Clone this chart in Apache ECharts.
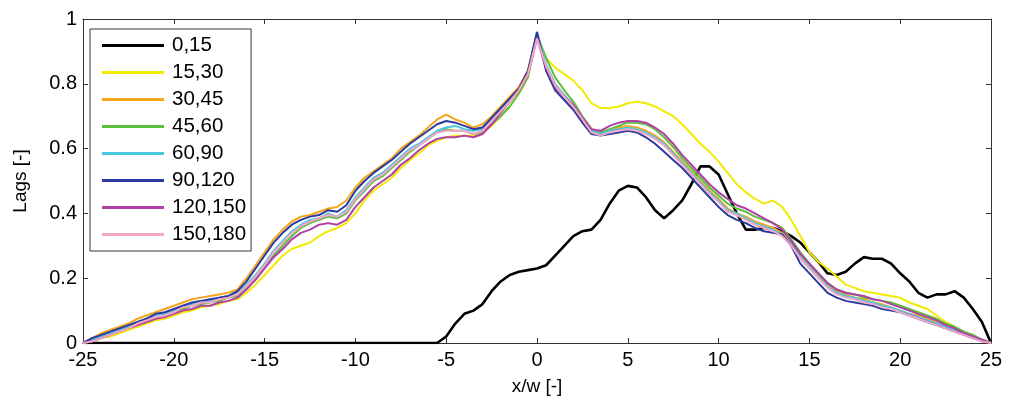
<!DOCTYPE html>
<html>
<head>
<meta charset="utf-8">
<script src="https://cdn.jsdelivr.net/npm/echarts@6/dist/echarts.min.js"></script>
<style>
html,body{margin:0;padding:0;background:#fff;}
#chart{width:1010px;height:401px;}
</style>
</head>
<body>
<div id="chart"></div>
<script>
// x/w grid from -25 to 25 step 0.5
var xValues = [];
for (var i = 0; i <= 100; i++) xValues.push(-25 + 0.5 * i);

var seriesNames = ['0,15','15,30','30,45','45,60','60,90','90,120','120,150','150,180'];
var seriesColors = ['#000000','#f2ea00','#f7a51c','#5cbf3c','#4cc6df','#2a3a9e','#b03fa6','#f4a6c4'];

var s0_15 = [
0,0,0,0,0,0,0,0,0,0,
0,0,0,0,0,0,0,0,0,0,
0,0,0,0,0,0,0,0,0,0,
0,0,0,0,0,0,0,0,0,0,
0.02,0.06,0.09,0.10,0.12,0.16,0.19,0.21,0.22,0.225,
0.23,
0.24,0.27,0.30,0.33,0.345,0.35,0.38,0.43,0.47,0.485,
0.48,0.45,0.41,0.385,0.41,0.44,0.49,0.545,0.545,0.52,
0.46,0.40,0.35,0.35,0.355,0.355,0.345,0.33,0.31,0.28,
0.25,0.215,0.21,0.22,0.245,0.265,0.26,0.26,0.245,0.215,
0.19,0.155,0.14,0.15,0.15,0.16,0.14,0.105,0.065,0];

var s15_30 = [
0,0.005,0.015,0.02,0.03,0.04,0.05,0.06,0.07,0.075,
0.085,0.095,0.10,0.11,0.115,0.12,0.13,0.135,0.155,0.18,
0.21,0.24,0.27,0.29,0.30,0.31,0.33,0.345,0.355,0.37,
0.40,0.44,0.47,0.49,0.51,0.54,0.565,0.585,0.61,0.625,
0.635,0.64,0.64,0.64,0.65,0.67,0.70,0.73,0.77,0.82,
0.95,
0.88,0.85,0.83,0.81,0.78,0.74,0.725,0.725,0.73,0.74,
0.745,0.74,0.73,0.715,0.70,0.675,0.645,0.615,0.59,0.56,
0.525,0.49,0.465,0.445,0.43,0.44,0.42,0.38,0.33,0.28,
0.25,0.23,0.205,0.18,0.17,0.16,0.155,0.15,0.145,0.14,
0.125,0.115,0.105,0.085,0.065,0.05,0.035,0.02,0.01,0];

var s30_45 = [
0,0.015,0.03,0.04,0.05,0.06,0.075,0.085,0.095,0.105,
0.115,0.125,0.135,0.14,0.145,0.15,0.155,0.165,0.20,0.24,
0.28,0.32,0.35,0.375,0.39,0.395,0.405,0.415,0.42,0.44,
0.48,0.51,0.53,0.55,0.57,0.60,0.62,0.64,0.665,0.69,
0.705,0.69,0.68,0.665,0.675,0.70,0.73,0.76,0.79,0.84,
0.95,
0.85,0.79,0.76,0.73,0.69,0.655,0.645,0.655,0.665,0.67,
0.665,0.655,0.64,0.62,0.59,0.56,0.53,0.50,0.47,0.445,
0.415,0.40,0.39,0.375,0.365,0.355,0.34,0.31,0.27,0.24,
0.21,0.18,0.16,0.15,0.14,0.135,0.125,0.12,0.11,0.10,
0.09,0.085,0.075,0.065,0.055,0.045,0.035,0.025,0.01,0];

var s45_60 = [
0,0.01,0.02,0.03,0.04,0.05,0.06,0.07,0.08,0.085,
0.095,0.105,0.115,0.12,0.125,0.13,0.14,0.145,0.17,0.20,
0.235,0.27,0.30,0.33,0.355,0.37,0.38,0.39,0.385,0.40,
0.44,0.47,0.50,0.515,0.54,0.565,0.59,0.61,0.63,0.65,
0.66,0.655,0.655,0.645,0.65,0.675,0.70,0.73,0.77,0.82,
0.95,
0.88,0.82,0.78,0.745,0.70,0.66,0.65,0.66,0.67,0.68,
0.68,0.675,0.66,0.635,0.605,0.57,0.54,0.51,0.48,0.455,
0.43,0.415,0.405,0.39,0.38,0.37,0.355,0.32,0.28,0.245,
0.215,0.185,0.165,0.155,0.15,0.14,0.135,0.13,0.125,0.115,
0.105,0.095,0.085,0.075,0.06,0.05,0.035,0.025,0.01,0];

var s60_90 = [
0,0.01,0.02,0.03,0.04,0.05,0.065,0.075,0.085,0.09,
0.10,0.115,0.12,0.13,0.13,0.14,0.145,0.155,0.18,0.21,
0.245,0.285,0.315,0.345,0.365,0.38,0.385,0.40,0.39,0.41,
0.45,0.48,0.51,0.525,0.55,0.575,0.60,0.615,0.635,0.655,
0.665,0.67,0.66,0.655,0.66,0.69,0.72,0.75,0.78,0.83,
0.96,
0.86,0.80,0.765,0.735,0.695,0.655,0.645,0.655,0.66,0.665,
0.66,0.65,0.635,0.615,0.585,0.555,0.525,0.495,0.465,0.44,
0.41,0.40,0.385,0.37,0.36,0.35,0.335,0.305,0.265,0.235,
0.205,0.175,0.155,0.145,0.14,0.13,0.125,0.115,0.11,0.10,
0.09,0.08,0.07,0.06,0.05,0.04,0.03,0.02,0.01,0];

var s90_120 = [
0,0.015,0.025,0.035,0.045,0.055,0.065,0.075,0.09,0.095,
0.105,0.115,0.125,0.13,0.135,0.14,0.145,0.16,0.19,0.23,
0.27,0.31,0.34,0.365,0.38,0.39,0.395,0.41,0.405,0.425,
0.47,0.50,0.525,0.545,0.565,0.59,0.615,0.635,0.655,0.675,
0.685,0.68,0.67,0.66,0.665,0.695,0.725,0.755,0.785,0.84,
0.96,
0.84,0.78,0.75,0.72,0.68,0.645,0.64,0.645,0.65,0.655,
0.65,0.635,0.615,0.59,0.565,0.54,0.51,0.48,0.45,0.42,
0.395,0.38,0.37,0.355,0.345,0.34,0.335,0.30,0.245,0.215,
0.185,0.155,0.14,0.13,0.125,0.12,0.115,0.105,0.10,0.095,
0.085,0.075,0.065,0.055,0.045,0.035,0.025,0.015,0.005,0];

var s120_150 = [
0,0.005,0.015,0.025,0.035,0.045,0.055,0.065,0.075,0.08,
0.09,0.10,0.105,0.115,0.115,0.125,0.13,0.14,0.165,0.195,
0.23,0.265,0.29,0.32,0.34,0.35,0.365,0.37,0.365,0.38,
0.42,0.45,0.48,0.50,0.52,0.55,0.57,0.595,0.615,0.63,
0.635,0.635,0.64,0.635,0.645,0.675,0.71,0.745,0.78,0.83,
0.94,
0.85,0.79,0.76,0.735,0.695,0.66,0.655,0.67,0.68,0.685,
0.685,0.68,0.665,0.645,0.615,0.58,0.55,0.52,0.49,0.465,
0.445,0.425,0.415,0.40,0.385,0.37,0.35,0.315,0.275,0.245,
0.215,0.185,0.165,0.155,0.15,0.145,0.135,0.13,0.12,0.11,
0.10,0.09,0.08,0.07,0.055,0.045,0.03,0.02,0.01,0];

var s150_180 = [
0,0.005,0.015,0.025,0.035,0.045,0.06,0.07,0.08,0.085,
0.095,0.11,0.115,0.125,0.125,0.135,0.14,0.15,0.175,0.205,
0.24,0.28,0.31,0.34,0.36,0.375,0.385,0.395,0.39,0.405,
0.445,0.475,0.505,0.52,0.545,0.57,0.595,0.61,0.63,0.65,
0.655,0.655,0.655,0.645,0.655,0.685,0.715,0.745,0.78,0.83,
0.94,
0.855,0.795,0.76,0.73,0.69,0.65,0.64,0.65,0.655,0.66,
0.655,0.645,0.63,0.61,0.58,0.55,0.52,0.49,0.46,0.435,
0.405,0.395,0.38,0.365,0.355,0.345,0.33,0.30,0.26,0.23,
0.20,0.17,0.15,0.14,0.135,0.125,0.12,0.11,0.105,0.095,
0.085,0.075,0.065,0.055,0.045,0.035,0.025,0.015,0.005,0];

var seriesValues = [s0_15, s15_30, s30_45, s45_60, s60_90, s90_120, s120_150, s150_180];

var FONT = '"Liberation Sans", Arial, sans-serif';
var AX = '#333333';

function pairs(vals) {
  return vals.map(function (v, k) { return [xValues[k], v]; });
}

var series = seriesNames.map(function (name, k) {
  return {
    name: name,
    type: 'line',
    data: pairs(seriesValues[k]),
    showSymbol: false,
    symbol: 'none',
    xAxisIndex: 0,
    yAxisIndex: 0,
    lineStyle: { color: seriesColors[k], width: k === 0 ? 2.6 : 2 },
    itemStyle: { color: seriesColors[k] },
    emphasis: { disabled: true },
    animation: false
  };
});

function xAx(pos, labels) {
  return {
    type: 'value', position: pos, min: -25, max: 25, interval: 5,
    axisLine: { show: true, onZero: false, lineStyle: { color: AX, width: 1 } },
    axisTick: { show: true, inside: true, length: 5, lineStyle: { color: AX } },
    axisLabel: { show: labels, fontSize: 20, color: '#000', fontFamily: FONT, margin: 7 },
    splitLine: { show: false }
  };
}
function yAx(pos, labels) {
  return {
    type: 'value', position: pos, min: 0, max: 1, interval: 0.2,
    axisLine: { show: true, onZero: false, lineStyle: { color: AX, width: 1 } },
    axisTick: { show: true, inside: true, length: 5, lineStyle: { color: AX } },
    axisLabel: { show: labels, fontSize: 20, color: '#000', fontFamily: FONT, margin: 6 },
    splitLine: { show: false }
  };
}

var xBottom = xAx('bottom', true);
xBottom.name = 'x/w [-]';
xBottom.nameLocation = 'middle';
xBottom.nameGap = 34;
xBottom.nameTextStyle = { fontSize: 19, color: '#000', fontFamily: FONT };
var yLeft = yAx('left', true);
yLeft.name = 'Lags [-]';
yLeft.nameLocation = 'middle';
yLeft.nameGap = 53;
yLeft.nameTextStyle = { fontSize: 19, color: '#000', fontFamily: FONT };

var chart = echarts.init(document.getElementById('chart'), null, { renderer: 'canvas' });
chart.setOption({
  animation: false,
  backgroundColor: '#ffffff',
  grid: { left: 83, right: 19, top: 19, bottom: 56, containLabel: false },
  xAxis: [xBottom, xAx('top', false)],
  yAxis: [yLeft, yAx('right', false)],
  legend: {
    data: seriesNames,
    orient: 'vertical',
    left: 90,
    top: 29,
    padding: [6, 5, 6, 12],
    itemGap: 6,
    itemWidth: 62,
    itemHeight: 3,
    icon: 'rect',
    backgroundColor: '#ffffff',
    borderColor: AX,
    borderWidth: 1,
    selectedMode: false,
    textStyle: { fontSize: 20.5, color: '#000', fontFamily: FONT, lineHeight: 20, padding: [0, 0, 0, 3] }
  },
  series: series
});
</script>
</body>
</html>
